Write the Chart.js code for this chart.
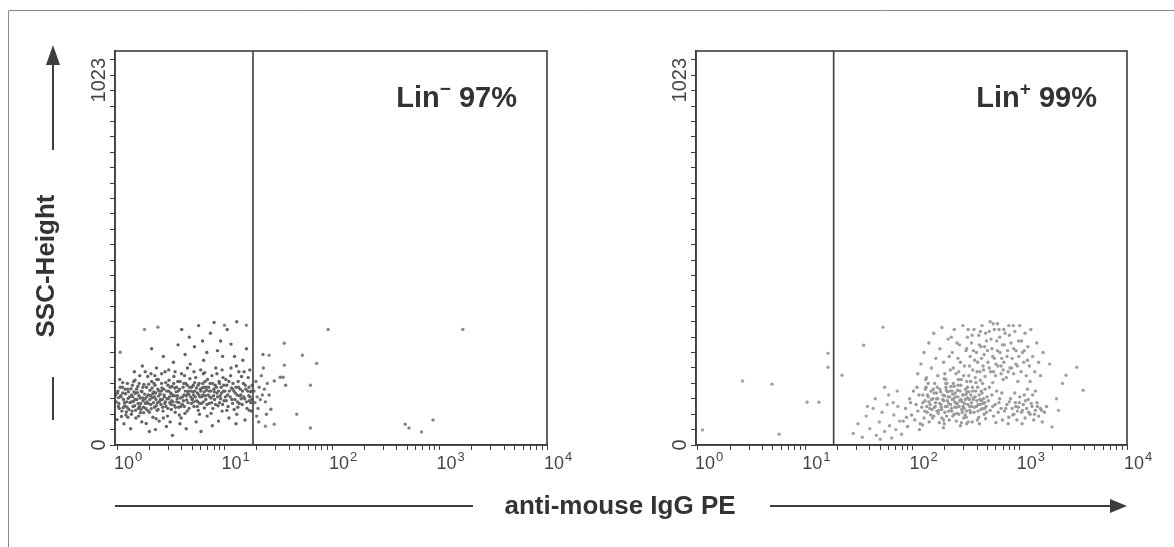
<!DOCTYPE html>
<html>
<head>
<meta charset="utf-8">
<script src="https://cdn.jsdelivr.net/npm/chart.js@4.4.0/dist/chart.umd.min.js"></script>
<style>
html, body { margin: 0; padding: 0; background: #fff; }
#wrap { position: relative; width: 1174px; height: 547px; }
#wrap canvas { position: absolute; left: 0; top: 0; }
</style>
</head>
<body>
<div id="wrap">
    <canvas id="PanelNeg" width="1174" height="547"></canvas>
    <canvas id="PanelPos" width="1174" height="547"></canvas>
</div>
<script>
// axis values
var xDecades = [1, 10, 100, 1000, 10000];
var xExponents = ['0', '1', '2', '3', '4'];
var xMinorSteps = [2, 3, 4, 5, 6, 7, 8, 9];
var yTickValues = [0, 40, 80, 120, 160, 200, 240, 280, 320, 360, 400, 440, 480, 520, 560, 600, 640, 680, 720, 760, 800, 840, 880, 920, 960, 1000];
var yLabelValues = [0, 1023];
var yLabelTexts = ['0', '1023'];
var gateValue = 18.4;
var panelNames = ['Lin', 'Lin'];
var panelSigns = ['\u2212', '+'];
var panelPercents = ['97%', '99%'];

// Lin- panel, points (fluorescence, SSC)
var negCore = [
    [0.98,112],[1.02,140],[1.05,95],[1.08,128],[1.1,74],[1.12,150],[1.15,118],[1.18,102],[1.2,133],[1.22,86],[1.25,160],[1.27,121],[1.0,66],[1.04,108],[1.14,97],[1.19,145],[1.23,112],[1.28,138],[1.06,170],[1.16,55],[1.29,92],[1.09,125],[1.21,78],[1.01,135],
    [1.32,110],[1.35,146],[1.38,88],[1.4,125],[1.43,165],[1.46,102],[1.48,134],[1.5,70],[1.53,118],[1.56,152],[1.58,95],[1.6,128],[1.63,180],[1.66,108],[1.68,140],[1.7,60],[1.73,122],[1.76,98],[1.78,157],[1.34,42],[1.45,190],[1.55,136],[1.65,84],[1.75,115],[1.42,113],[1.62,100],[1.37,130],[1.72,205],
    [1.82,120],[1.85,95],[1.88,150],[1.9,112],[1.93,178],[1.96,130],[2.0,85],[2.03,142],[2.06,105],[2.1,165],[2.13,123],[2.16,72],[2.2,138],[2.23,98],[2.26,155],[2.3,118],[2.33,200],[2.36,90],[2.4,145],[2.44,127],[2.47,62],[2.1,250],[2.0,35],[2.25,180],[1.95,108],[2.38,110],[2.15,133],[2.42,170],[1.87,56],[2.28,40],
    [2.52,132],[2.56,105],[2.6,160],[2.64,118],[2.68,88],[2.72,145],[2.76,125],[2.8,190],[2.85,100],[2.9,140],[2.95,75],[3.0,120],[3.05,168],[3.1,110],[3.15,135],[3.2,92],[3.25,152],[3.3,128],[3.35,215],[3.4,103],[3.45,148],[2.7,230],[2.88,48],[3.12,60],[3.38,178],[2.58,140],[2.98,155],[3.22,115],[3.48,85],[2.82,112],[3.28,25],
    [3.55,138],[3.6,112],[3.68,165],[3.75,98],[3.82,145],[3.9,122],[3.98,185],[4.05,105],[4.12,150],[4.2,130],[4.28,82],[4.36,160],[4.45,117],[4.52,200],[4.6,140],[4.68,95],[4.76,172],[4.84,125],[4.92,108],[3.7,260],[4.0,300],[4.3,235],[4.7,280],[3.85,55],[4.4,42],[4.95,150],[3.65,128],[4.15,115],[4.56,133],[3.95,70],[4.8,210],[4.25,180],
    [5.05,120],[5.12,155],[5.2,100],[5.3,140],[5.4,175],[5.5,115],[5.6,135],[5.7,90],[5.8,160],[5.9,125],[6.0,195],[6.1,108],[6.2,148],[6.3,130],[6.4,220],[6.5,96],[6.6,165],[6.7,118],[6.8,142],[6.9,75],[5.25,255],[5.75,310],[6.25,270],[6.85,240],[5.45,60],[6.05,35],[6.55,188],[5.15,130],[5.65,112],[6.45,150],[5.95,145],
    [7.05,130],[7.2,108],[7.35,160],[7.5,122],[7.65,180],[7.8,95],[7.95,145],[8.1,118],[8.3,200],[8.5,135],[8.7,102],[8.9,165],[9.1,128],[9.3,150],[9.5,88],[9.7,175],[9.9,115],[7.4,290],[8.0,318],[8.6,245],[9.2,270],[7.7,50],[8.8,62],[9.6,230],[7.25,140],[8.2,155],[9.0,110],[9.8,140],
    [10.2,125],[10.5,155],[10.8,100],[11.1,140],[11.4,180],[11.7,118],[12.0,160],[12.3,92],[12.6,135],[12.9,205],[13.2,112],[13.5,150],[13.8,128],[10.6,300],[11.5,262],[12.4,230],[13.0,320],[13.6,190],[11.0,70],[12.8,55],[10.3,170],[11.9,145],[13.3,98],
    [14.2,130],[14.6,105],[15.0,160],[15.4,120],[15.8,145],[16.2,95],[16.6,175],[17.0,115],[17.4,138],[17.8,88],[18.1,155],[14.8,220],[16.0,250],[17.2,195],[15.5,65],[16.8,128],[14.4,178],[17.6,110]
];
var negDense = [
    [0.97,130],[1.03,100],[1.07,150],[1.11,88],[1.13,135],[1.17,110],[1.24,98],[1.26,145],[1.31,125],[1.36,80],[1.39,155],[1.41,100],[1.44,138],[1.47,118],[1.49,90],[1.03,123],[1.13,162],[1.26,72],[1.36,112],[1.47,168],
    [1.52,145],[1.57,108],[1.61,160],[1.64,122],[1.67,92],[1.71,138],[1.74,150],[1.77,84],[1.81,132],[1.84,108],[1.89,125],[1.92,90],[1.97,158],[2.02,118],[2.05,128],[2.08,94],[2.12,148],[2.18,110],[2.21,160],[2.24,125],[2.29,135],[2.32,102],[2.35,170],[2.41,92],[2.45,140],[2.49,113],[1.59,75],[1.83,190],[2.07,185],[2.31,68],
    [2.54,118],[2.62,148],[2.66,98],[2.74,130],[2.78,108],[2.84,162],[2.92,120],[2.97,95],[3.02,140],[3.08,125],[3.13,150],[3.18,105],[3.24,132],[3.32,112],[3.37,160],[3.43,128],[3.5,98],[3.58,150],[3.63,120],[3.72,140],[3.78,110],[3.87,165],[3.93,100],[2.6,185],[3.03,195],[3.47,190],[3.8,78],[2.7,70],
    [4.08,125],[4.18,160],[4.23,100],[4.33,140],[4.42,128],[4.5,155],[4.58,110],[4.65,132],[4.73,150],[4.88,140],[4.98,118],[5.08,138],[5.18,112],[5.28,162],[5.36,125],[5.48,148],[5.58,100],[5.68,155],[5.78,130],[5.88,108],[6.02,140],[6.15,125],[6.28,160],[6.38,112],[6.48,138],[6.62,128],[6.75,150],[6.88,105],[4.5,88],[5.2,190],[5.85,80],[6.35,185],[6.95,170],
    [7.1,150],[7.3,125],[7.45,140],[7.6,110],[7.75,160],[7.9,128],[8.05,138],[8.25,105],[8.4,150],[8.6,125],[8.8,140],[9.0,160],[9.2,120],[9.4,135],[9.6,105],[9.85,155],[10.1,140],[10.4,115],[10.7,130],[11.0,165],[11.3,125],[11.6,148],[11.9,108],[7.5,82],[8.5,185],[9.5,195],[10.5,90],[11.5,200],
    [12.2,140],[12.5,118],[12.8,150],[13.1,130],[13.4,165],[13.7,108],[14.0,145],[14.3,120],[14.7,140],[15.1,125],[15.6,155],[16.0,112],[16.4,140],[16.9,150],[17.3,125],[17.7,140],[18.0,118],[13.0,80],[15.2,190],[17.0,90]
];
var negSpill = [
    [18.8,140],[19.2,110],[19.6,165],[20.1,125],[20.5,95],[21,150],[21.5,118],[22,180],[22.5,130],[23,200],[23.5,145],[24,112],[24.5,80],[25,160],[22.8,235],[20.8,60],[19.9,75],
    [33,176],[29,166],[37,155],[26,130],[27,93],[35,176]
];
var negOutliers = [
    [92,300],[1650,300],[36,264],[53,233],[72,212],[36,207],[26,233],[63,155],[47,80],[63,44],[29,54],[24,49],
    [480,54],[520,44],[680,34],[870,65],[1.8,300],[2.4,306],[1.07,241],[10,311],[16,311]
];

// Lin+ panel, points (fluorescence, SSC)
var posCore = [
    [82,62],[86,95],[90,48],[94,120],[98,78],[102,140],[105,65],[108,105],[112,88],[115,130],[118,55],[88,72],[96,110],[110,150],[116,40],
    [122,98],[125,130],[128,70],[131,115],[134,150],[137,85],[140,125],[143,60],[146,105],[149,140],[152,92],[155,120],[158,75],[161,160],[164,110],[167,135],[124,52],[136,100],[148,78],[160,98],[133,170],[156,145],[169,88],[142,112],
    [172,120],[176,90],[180,145],[184,105],[188,70],[192,130],[196,115],[200,85],[205,150],[210,100],[215,125],[220,65],[225,140],[230,95],[235,118],[240,160],[245,80],[178,58],[198,172],[218,108],[238,132],[186,98],[208,75],[228,152],[248,112],[194,45],[212,138],[232,88],
    [252,125],[258,98],[264,142],[270,80],[276,115],[282,155],[288,92],[294,130],[300,70],[306,108],[312,145],[318,88],[324,122],[330,60],[336,138],[342,100],[348,165],[256,62],[268,170],[280,50],[296,100],[310,78],[326,150],[340,118],[262,108],[290,112],[316,132],[346,84],
    [355,110],[365,140],[375,85],[385,125],[395,100],[405,150],[415,72],[425,118],[435,92],[445,135],[455,108],[465,80],[475,145],[485,100],[495,125],[360,60],[390,162],[420,55],[450,160],[480,68],[370,118],[410,105],[440,115],[470,95],
    [510,115],[530,90],[550,130],[570,75],[590,105],[610,140],[630,85],[650,120],[670,95],[690,65],[520,150],[560,100],[600,58],[640,110],[680,135]
];
var posDense = [
    [125,110],[130,88],[138,130],[145,95],[150,118],[154,70],[159,135],[163,100],[168,120],[174,82],[179,108],[183,138],[187,92],[191,118],[195,65],[199,128],[203,100],[207,142],[212,115],[217,88],[222,125],[227,105],[233,140],[237,75],[242,120],[247,98],[251,135],[255,108],[260,82],[266,125],[272,100],[278,140],[284,118],[291,85],[298,130],[304,95],[311,118],[317,72],[322,138],[329,105],[335,120],[343,90],[350,130],[358,100],[368,122],[378,98],[388,140],[398,115],[408,88],[418,130],[428,105],[438,140],[448,95],[460,120],[472,110],[490,85],[132,145],[170,150],[204,160],[244,152],[286,58],[320,55],[265,155],[198,55],[362,150],[402,65],
    [200,185],[220,230],[240,200],[260,265],[280,215],[300,180],[320,250],[340,205],[360,285],[380,220],[400,190],[420,260],[440,225],[460,195],[480,290],[500,245],[520,200],[540,275],[560,230],[580,300],[600,210],[620,245],[650,280],[680,225],[700,195],[720,260],[760,230],[800,285],[840,200],[880,250],[920,210],[980,230],[1040,270],[1100,245],[1180,220],[230,280],[330,300],[430,295],[530,320],[620,315],[710,300],[870,310],[270,190],[370,245],[470,255],[570,190],[670,205],[780,190],
    [740,95],[800,112],[860,78],[920,100],[990,110],[1060,90],[1130,115],[1210,85],[1280,108],[1370,80],[1460,100],[1600,90]
];
var posHighCluster = [
    [720,88],[760,105],[790,72],[820,120],[850,95],[880,80],[910,110],[940,65],[970,98],[1000,125],[1040,85],[1080,105],[1120,70],[1160,95],[1200,118],[1250,80],[1300,100],[1350,65],[1400,90],[1450,110],[1500,75],[1560,95],[1620,60],[1700,85],[1780,100],[900,135],[1100,130],[1320,130],[1050,55],[780,55],[1180,145],[1400,140],[950,88]
];
var posUpper = [
    [112,185],[120,210],[128,240],[135,175],[142,265],[150,200],[158,290],[165,225],[172,180],[180,250],[188,305],[195,215],[205,170],[215,275],[225,195],[235,240],[245,300],[255,185],[265,225],[275,260],[285,170],[295,310],[305,205],[315,245],[325,280],[335,180],[345,230],[355,265],[365,195],[375,300],[385,175],[395,240],[405,215],[415,285],[425,190],[435,255],[445,310],[455,205],[465,235],[475,178],[490,270],[505,215],[520,295],[535,190],[550,250],[565,315],[580,225],[595,180],[610,270],[625,205],[640,300],[655,240],[670,185],[690,260],[710,215],[730,290],[750,175],[770,245],[790,310],[810,200],[830,265],[850,225],[875,185],[900,295],[925,245],[950,205],[975,270],[1000,310],[1030,190],[1060,240],[1090,215],[1120,290],[1150,180],[1190,255],[1230,205],[1270,300],[1320,230],[1380,190],[1440,265],[1500,215],[1560,180],[1650,240],[140,160],[210,160],[320,165],[430,168],[560,162],[700,170],[960,165],[1250,165]
];
var posTail = [
    [28,30],[31,55],[34,20],[37,75],[40,42],[43,95],[46,25],[49,60],[52,85],[55,35],[58,105],[61,50],[64,18],[67,78],[70,40],[73,100],[76,62],[79,28],[45,120],[60,130],[72,140],[38,100],[50,15],[66,110],[55,150]
];
var posOutliers = [
    [22,181],[35,259],[53,306],[3400,202],[3900,142],[2700,181],[2000,47],[2200,120],[2500,160],[1900,210],[2300,90],
    [1.1,39],[2.6,166],[4.9,158],[5.7,28],[10.4,111],[13.4,111],[16.3,238],[16.3,202]
];

var inkColor = '#3d3d3d';
var fontFamily = '"Liberation Sans", Arial, Helvetica, sans-serif';

function toPoints(list) {
    return list.map(function (p) { return { x: p[0], y: p[1] }; });
}

function buildXTicks() {
    var ticks = [];
    xDecades.forEach(function (d, i) {
        ticks.push({ value: d });
        if (i < xDecades.length - 1) {
            xMinorSteps.forEach(function (m) { ticks.push({ value: d * m }); });
        }
    });
    return ticks;
}

// box, gate, tick labels and the Lin label of one panel
var panelDecor = {
    id: 'panelDecor',
    afterDraw: function (chart, args, opts) {
        var ctx = chart.ctx;
        var area = chart.chartArea;
        var xs = chart.scales.x;
        var ys = chart.scales.y;

        ctx.save();
        ctx.strokeStyle = inkColor;
        ctx.lineWidth = 1.6;
        ctx.strokeRect(area.left, area.top, area.right - area.left, area.bottom - area.top);

        var gx = xs.getPixelForValue(gateValue);
        ctx.beginPath();
        ctx.moveTo(gx, area.top);
        ctx.lineTo(gx, area.bottom);
        ctx.stroke();

        ctx.fillStyle = '#444';
        ctx.textBaseline = 'alphabetic';
        ctx.textAlign = 'left';
        xDecades.forEach(function (v, i) {
            var px = xs.getPixelForValue(v);
            ctx.font = '18px ' + fontFamily;
            ctx.fillText('10', px - 3, area.bottom + 24);
            var w = ctx.measureText('10').width;
            ctx.font = '13px ' + fontFamily;
            ctx.fillText(xExponents[i], px - 2 + w, area.bottom + 16);
        });

        ctx.font = '20px ' + fontFamily;
        yLabelValues.forEach(function (v, i) {
            var py = ys.getPixelForValue(v);
            ctx.save();
            if (i === 0) {
                ctx.translate(area.left - 16, py);
                ctx.rotate(-Math.PI / 2);
                ctx.textAlign = 'center';
            } else {
                ctx.translate(area.left - 16, py + 7);
                ctx.rotate(-Math.PI / 2);
                ctx.textAlign = 'right';
            }
            ctx.textBaseline = 'middle';
            ctx.fillText(yLabelTexts[i], 0, 0);
            ctx.restore();
        });

        // Lin label, right aligned inside the box
        ctx.fillStyle = '#333';
        ctx.textAlign = 'left';
        ctx.textBaseline = 'alphabetic';
        var baseY = area.top + 56;
        ctx.font = 'bold 29px ' + fontFamily;
        var wName = ctx.measureText(panelNames[opts.index]).width;
        var wPct = ctx.measureText(' ' + panelPercents[opts.index]).width;
        ctx.font = 'bold 19px ' + fontFamily;
        var wSign = ctx.measureText(panelSigns[opts.index]).width;
        var startX = area.right - 30 - wPct - wSign - wName;
        ctx.font = 'bold 29px ' + fontFamily;
        ctx.fillText(panelNames[opts.index], startX, baseY);
        ctx.fillText(' ' + panelPercents[opts.index], startX + wName + wSign, baseY);
        ctx.font = 'bold 19px ' + fontFamily;
        ctx.fillText(panelSigns[opts.index], startX + wName, baseY - 12);
        ctx.restore();
    }
};

// frame, arrows and axis titles of the whole figure
var figureDecor = {
    id: 'figureDecor',
    afterDraw: function (chart) {
        var ctx = chart.ctx;
        ctx.save();
        ctx.strokeStyle = '#8a8a8a';
        ctx.lineWidth = 1;
        ctx.beginPath();
        ctx.moveTo(8.5, 547);
        ctx.lineTo(8.5, 10.5);
        ctx.lineTo(1174, 10.5);
        ctx.stroke();

        ctx.strokeStyle = inkColor;
        ctx.fillStyle = inkColor;
        ctx.lineWidth = 2;
        ctx.beginPath();
        ctx.moveTo(53, 150); ctx.lineTo(53, 62);
        ctx.moveTo(53, 377); ctx.lineTo(53, 420);
        ctx.moveTo(115, 506); ctx.lineTo(473, 506);
        ctx.moveTo(770, 506); ctx.lineTo(1114, 506);
        ctx.stroke();

        ctx.beginPath();
        ctx.moveTo(53, 45); ctx.lineTo(46, 65); ctx.lineTo(60, 65); ctx.closePath();
        ctx.fill();
        ctx.beginPath();
        ctx.moveTo(1127, 506); ctx.lineTo(1110, 499); ctx.lineTo(1110, 513); ctx.closePath();
        ctx.fill();

        ctx.fillStyle = '#333';
        ctx.font = 'bold 26px ' + fontFamily;
        ctx.textAlign = 'center';
        ctx.textBaseline = 'middle';
        ctx.fillText('anti-mouse IgG PE', 620, 507);
        ctx.save();
        ctx.translate(47, 266);
        ctx.rotate(-Math.PI / 2);
        ctx.fillText('SSC-Height', 0, 0);
        ctx.restore();
        ctx.restore();
    }
};

function drawPanel(canvasId, index, sets, padLeft, padRight, extraPlugins) {
    var element = document.getElementById(canvasId);

    var config = {
        type: 'scatter',
        data: {
            datasets: sets.map(function (s) {
                return {
                    data: toPoints(s.points),
                    backgroundColor: s.color,
                    borderWidth: 0,
                    pointRadius: 1.7,
                    pointHoverRadius: 1.7
                };
            })
        },
        options: {
            responsive: false,
            animation: false,
            events: [],
            layout: {
                padding: { left: padLeft, right: padRight, top: 51, bottom: 96 }
            },
            plugins: {
                legend: { display: false },
                tooltip: { enabled: false },
                panelDecor: { index: index }
            },
            scales: {
                x: {
                    type: 'logarithmic',
                    min: 0.958,
                    max: 10000,
                    afterBuildTicks: function (scale) { scale.ticks = buildXTicks(); },
                    afterFit: function (scale) { scale.height = 6; },
                    ticks: { display: false },
                    grid: {
                        drawOnChartArea: false,
                        drawTicks: true,
                        tickLength: 5,
                        color: inkColor,
                        tickColor: inkColor,
                        lineWidth: 1
                    },
                    border: { display: true, color: inkColor, width: 1.6 }
                },
                y: {
                    type: 'linear',
                    min: 0,
                    max: 1023,
                    afterBuildTicks: function (scale) {
                        scale.ticks = yTickValues.map(function (v) { return { value: v }; });
                    },
                    afterFit: function (scale) { scale.width = 6; },
                    ticks: { display: false },
                    grid: {
                        drawOnChartArea: false,
                        drawTicks: true,
                        tickLength: 5,
                        color: inkColor,
                        tickColor: inkColor,
                        lineWidth: 1
                    },
                    border: { display: true, color: inkColor, width: 1.6 }
                }
            }
        },
        plugins: [panelDecor].concat(extraPlugins)
    };

    return new Chart(element, config);
}

drawPanel('PanelNeg', 0, [
    { points: negCore, color: '#636363' },
    { points: negDense, color: '#666666' },
    { points: negSpill, color: '#777777' },
    { points: negOutliers, color: '#888888' }
], 109, 627, [figureDecor]);

drawPanel('PanelPos', 1, [
    { points: posCore, color: '#999999' },
    { points: posDense, color: '#9c9c9c' },
    { points: posUpper, color: '#9e9e9e' },
    { points: posHighCluster, color: '#9a9a9a' },
    { points: posTail, color: '#a4a4a4' },
    { points: posOutliers, color: '#a4a4a4' }
], 690, 47, []);
</script>
</body>
</html>
